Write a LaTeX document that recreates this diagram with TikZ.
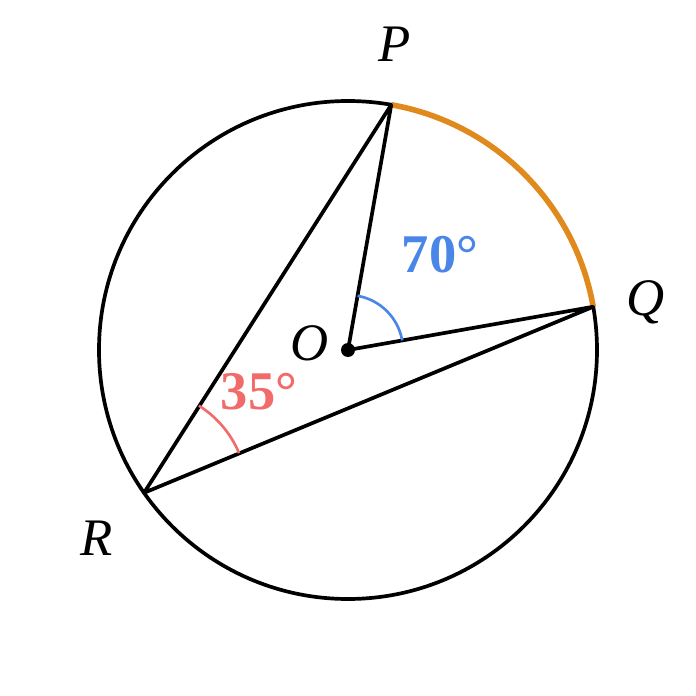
\documentclass[tikz,border=0pt]{standalone}
\usepackage{fontspec}
\setmainfont{Liberation Serif}[BoldFont={Liberation Serif Bold},ItalicFont={Liberation Serif Italic}]
\usetikzlibrary{calc}
\definecolor{arcorange}{HTML}{E08A1E}
\definecolor{angblue}{HTML}{4A86E8}
\definecolor{angred}{HTML}{F26B6B}
\begin{document}
\begin{tikzpicture}[x=0.01cm,y=0.01cm,line join=round,
  edge/.style={line width=1.05pt,black},
  ptlabel/.style={font=\fontsize{15}{17}\selectfont\itshape},
  anglabel/.style={font=\fontsize{15.5}{18}\selectfont\bfseries}]
\useasboundingbox (0,0) rectangle (696,696);
\coordinate (O) at (348,346);
\coordinate (P) at ($(O)+(80:249)$);
\coordinate (Q) at ($(O)+(10:249)$);
\coordinate (R) at ($(O)+(215:249)$);
\draw[edge] (O) circle (249);
\draw[line width=1.6pt,arcorange] (Q) arc (10:80:249);
\draw[edge] (R) -- (P) -- (O) -- (Q) -- cycle;
\draw[line width=0.75pt,angblue] ($(O)+(10:55)$) arc (10:80:55);
\draw[line width=0.75pt,angred] ($(R)+(22.7:103)$) arc (22.7:57.8:103);
\fill (O) circle (7);
\node[ptlabel] (lP) at (395,652) {P};
\node[ptlabel] (lQ) at (646,394) {Q};
\node[ptlabel] (lR) at (97,158) {R};
\node[ptlabel] (lO) at (310,353) {O};
\node[anglabel,text=angblue] (a70) at (440,441) {70°};
\node[anglabel,text=angred] (a35) at (259,304) {35°};
\end{tikzpicture}
\end{document}
